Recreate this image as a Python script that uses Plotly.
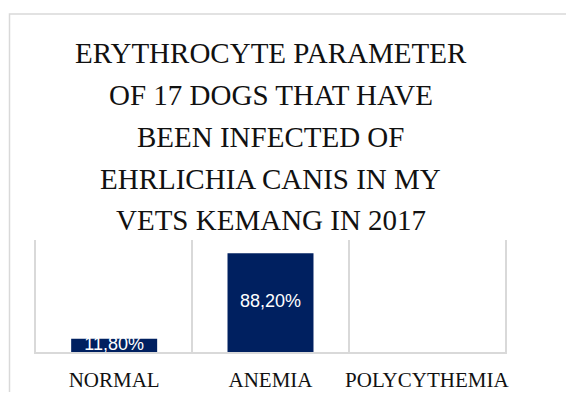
import plotly.graph_objects as go

categories = ["NORMAL", "ANEMIA", "POLYCYTHEMIA"]
values = [11.8, 88.2, 0.0]
labels = [f"{v:.2f}".replace(".", ",") + "%" for v in values]
title_lines = ["ERYTHROCYTE PARAMETER", "OF 17 DOGS THAT HAVE", "BEEN INFECTED OF",
               "EHRLICHIA CANIS IN MY", "VETS KEMANG IN 2017"]

OFF = 8  # page body margin
W, H = 574 - 2 * OFF, 400 - 2 * OFF
L, T = 36 - OFF, 240 - OFF
R = W - (505 - OFF)
B = H - (352 - OFF)
pw, ph = W - L - R, H - T - B

fig = go.Figure()
fig.add_trace(go.Bar(x=categories, y=values, marker=dict(color="#002060", line=dict(width=0)),
                     hoverinfo="skip", showlegend=False))
fig.add_trace(go.Scatter(x=categories, y=[v / 2 for v in values], mode="text", text=labels,
                         textfont=dict(family="Liberation Sans", size=18, color="white"),
                         textposition="middle center", cliponaxis=True,
                         hoverinfo="skip", showlegend=False))

def px_x(p):
    return (p - OFF - L) / pw

def px_y(p):
    return (H - B - (p - OFF)) / ph

fig.add_shape(type="rect", xref="paper", yref="paper",
              x0=px_x(9.5), x1=px_x(620), y0=px_y(14), y1=px_y(440),
              line=dict(color="#d9d9d9", width=1.5), fillcolor="rgba(0,0,0,0)", layer="below")

line_centers = [53, 95, 137, 179, 220]
for txt, yc in zip(title_lines, line_centers):
    fig.add_annotation(text=txt, xref="paper", yref="paper", x=0.5, y=px_y(yc),
                       xanchor="center", yanchor="middle", showarrow=False,
                       font=dict(family="Liberation Serif", size=29, color="#111111"))

fig.update_layout(
    width=W, height=H,
    margin=dict(l=L, r=R, t=T, b=B, autoexpand=False),
    paper_bgcolor="white", plot_bgcolor="white",
    bargap=0.45,
    xaxis=dict(type="category", tickson="boundaries", showgrid=True, gridcolor="#d9d9d9",
               gridwidth=1.5, showline=True, linecolor="#d9d9d9", linewidth=1.5,
               ticks="", ticklen=0, tickangle=0, automargin=False, ticklabelstandoff=8,
               tickfont=dict(family="Liberation Serif", size=21, color="#111111"),
               zeroline=False, fixedrange=True),
    yaxis=dict(range=[0, 100], showgrid=False, showticklabels=False, zeroline=False,
               showline=True, mirror=True, linecolor="#d9d9d9", linewidth=1.5,
               ticks="", fixedrange=True, automargin=False),
)

fig.write_html("out.html")
